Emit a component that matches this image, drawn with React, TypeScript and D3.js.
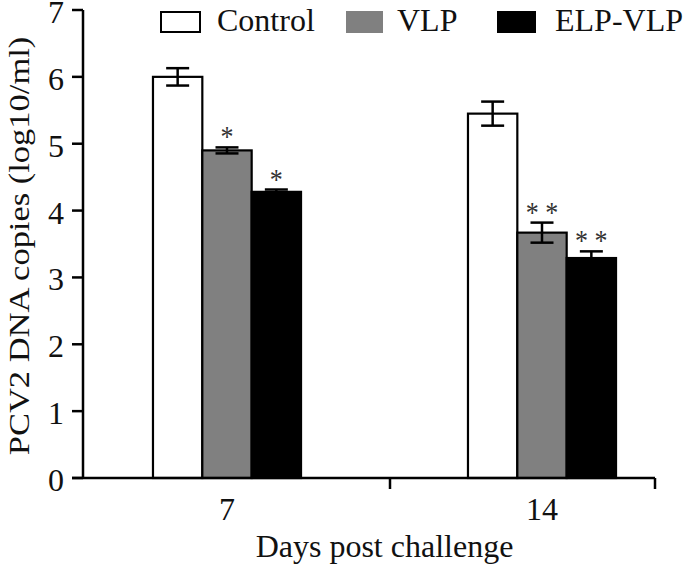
import React from "react";
import * as d3 from "d3";

const categories = ["7", "14"];
const seriesNames = ["Control", "VLP", "ELP-VLP"];
const controlMeans = [6.0, 5.45];
const controlErrors = [0.13, 0.18];
const vlpMeans = [4.9, 3.67];
const vlpErrors = [0.045, 0.15];
const elpMeans = [4.28, 3.29];
const elpErrors = [0.035, 0.1];
const controlStars = ["", ""];
const vlpStars = ["*", "* *"];
const elpStars = ["*", "* *"];
const yTicks = [0, 1, 2, 3, 4, 5, 6, 7];
const xLabel = "Days post challenge";
const yLabel = "PCV2 DNA copies (log10/ml)";

const FONT = "'Liberation Serif', 'Times New Roman', serif";

const series = [
  { name: seriesNames[0], means: controlMeans, errors: controlErrors, stars: controlStars, fill: "#ffffff" },
  { name: seriesNames[1], means: vlpMeans, errors: vlpErrors, stars: vlpStars, fill: "#808080" },
  { name: seriesNames[2], means: elpMeans, errors: elpErrors, stars: elpStars, fill: "#000000" },
];

export default function App() {
  const W = 685, H = 565;
  const y = d3.scaleLinear().domain([0, 7]).range([478, 10]);
  const x0 = d3.scaleBand().domain(categories).range([69.5, 699.5]).paddingInner(0.53).paddingOuter(0.265);
  const x1 = d3.scaleBand().domain(seriesNames).range([0, x0.bandwidth()]);
  const axisX = 83;
  const xAxisStart = 72;
  const xAxisEnd = 655;
  const xTickPos = [390, 655];
  const capHalf = 11.5;
  const fs = 32;

  const legendItems = [
    { box: [161, 200], text: 217 },
    { box: [347, 382], text: 397 },
    { box: [498, 535], text: 555 },
  ];

  return (
    <svg width={W} height={H} style={{ position: "absolute", left: 0, top: 0, background: "#fff" }} fontFamily={FONT}>
      <rect x={0} y={0} width={W} height={H} fill="#fff" />
      {categories.map((c, ci) => (
        <g key={c} transform={`translate(${x0(c)},0)`}>
          {series.map((s) => {
            const bx = x1(s.name)!;
            const bw = x1.bandwidth();
            const top = y(s.means[ci]);
            const cx = bx + bw / 2;
            const eTop = y(s.means[ci] + s.errors[ci]);
            const eBot = y(s.means[ci] - s.errors[ci]);
            return (
              <g key={s.name}>
                <rect x={bx} y={top} width={bw} height={y(0) - top} fill={s.fill} stroke="#000" strokeWidth={2.2} />
                <line x1={cx} x2={cx} y1={eTop} y2={eBot} stroke="#000" strokeWidth={2.5} />
                <line x1={cx - capHalf} x2={cx + capHalf} y1={eTop} y2={eTop} stroke="#000" strokeWidth={2.5} />
                <line x1={cx - capHalf} x2={cx + capHalf} y1={eBot} y2={eBot} stroke="#000" strokeWidth={2.5} />
                {s.stars[ci] && (
                  <text
                    transform={`translate(${cx},${eTop - 1}) scale(1,1.1)`}
                    textAnchor="middle"
                    fontSize={26}
                    fill="#333"
                  >
                    {s.stars[ci]}
                  </text>
                )}
              </g>
            );
          })}
        </g>
      ))}
      <line x1={axisX} x2={axisX} y1={y(7)} y2={y(0)} stroke="#000" strokeWidth={2.5} />
      {yTicks.map((t) => (
        <g key={t}>
          <line x1={xAxisStart} x2={axisX} y1={y(t)} y2={y(t)} stroke="#000" strokeWidth={2.5} />
          <text x={64} y={y(t) + 13} textAnchor="end" fontSize={fs} fill="#111">
            {t}
          </text>
        </g>
      ))}
      <line x1={xAxisStart} x2={xAxisEnd} y1={y(0)} y2={y(0)} stroke="#000" strokeWidth={2.5} />
      {xTickPos.map((p) => (
        <line key={p} x1={p} x2={p} y1={y(0)} y2={y(0) + 11} stroke="#000" strokeWidth={2.5} />
      ))}
      {categories.map((c) => (
        <text key={c} x={x0(c)! + x0.bandwidth() / 2} y={520} textAnchor="middle" fontSize={fs} fill="#111">
          {c}
        </text>
      ))}
      <text x={384.5} y={556.5} textAnchor="middle" fontSize={fs} fill="#111">
        {xLabel}
      </text>
      <text transform={`translate(28.5,246) rotate(-90) scale(1.15,1)`} textAnchor="middle" fontSize={30} fill="#111">
        {yLabel}
      </text>
      {series.map((s, i) => (
        <g key={s.name}>
          <rect
            x={legendItems[i].box[0]}
            y={12}
            width={legendItems[i].box[1] - legendItems[i].box[0]}
            height={20}
            fill={s.fill}
            stroke={i === 1 ? "#808080" : "#000"}
            strokeWidth={2}
          />
          <text x={legendItems[i].text} y={31} fontSize={fs} fill="#111">
            {s.name}
          </text>
        </g>
      ))}
    </svg>
  );
}
